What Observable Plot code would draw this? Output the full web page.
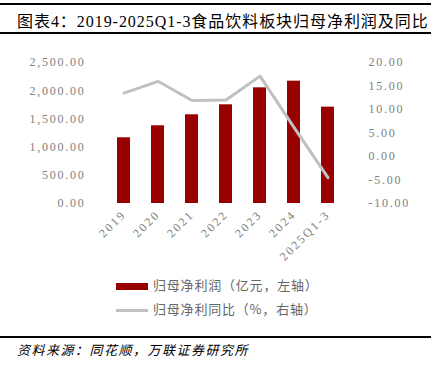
<!DOCTYPE html>
<html>
<head>
<meta charset="utf-8">
<script src="https://cdn.jsdelivr.net/npm/d3@7"></script>
<script src="https://cdn.jsdelivr.net/npm/@observablehq/plot@0.6"></script>
<style>
  html, body { margin: 0; padding: 0; background: #fff; }
  #wrap { position: relative; width: 431px; height: 366px; overflow: hidden; font-family: "Liberation Serif", "Noto Sans CJK SC", serif; }
  .rule { position: absolute; left: 0; width: 431px; background: #000; }
  #title { position: absolute; left: 17px; top: 8px; font-size: 16px; letter-spacing: 0.95px; color: #000; white-space: nowrap; font-family: "Liberation Serif", "Noto Sans CJK SC", serif; }
  #chart { position: absolute; left: 0; top: 0; }
  #chart svg g[aria-label="y-axis tick label"] text { letter-spacing: 1.75px; }
  #chart svg g[aria-label="x-axis tick label"] text { letter-spacing: 2.1px; }
  .leg { position: absolute; left: 116px; font-size: 13px; letter-spacing: 0.8px; color: #666; white-space: nowrap; font-family: "Noto Sans CJK SC", sans-serif; }
  .sw { display: inline-block; width: 32px; vertical-align: middle; margin-right: 5px; }
  #src { position: absolute; left: 17px; top: 340px; font-size: 13px; font-style: italic; letter-spacing: 1.5px; color: #000; white-space: nowrap; font-family: "Noto Sans CJK SC", sans-serif; }
</style>
</head>
<body>
<div id="wrap">
  <div class="rule" style="top:3px;height:2px;"></div>
  <div id="title">图表4：2019-2025Q1-3食品饮料板块归母净利润及同比</div>
  <div class="rule" style="top:32px;height:2px;"></div>
  <div id="chart"></div>
  <div class="leg" style="top:275px;"><span class="sw" style="height:7px;background:#990000;"></span>归母净利润（亿元，左轴）</div>
  <div class="leg" style="top:299px;"><span class="sw" style="height:3px;background:#c0c0c0;"></span>归母净利同比（%，右轴）</div>
  <div class="rule" style="top:336px;height:2px;"></div>
  <div id="src">资料来源：同花顺，万联证券研究所</div>
</div>
<script>
const categories = ["2019", "2020", "2021", "2022", "2023", "2024", "2025Q1-3"];
const profit = [1165, 1378, 1573, 1750, 2051, 2169, 1708];   // 亿元, left axis
const yoy = [13.5, 16.0, 11.9, 12.0, 17.1, 6.2, -4.5];        // %, right axis
const leftTicks = [0, 500, 1000, 1500, 2000, 2500];
const rightTicks = [-10, -5, 0, 5, 10, 15, 20];

const LMAX = 2500, RMIN = -10, RMAX = 20;
const toLeft = v => (v - RMIN) / (RMAX - RMIN) * LMAX;
const toRight = v => v / LMAX * (RMAX - RMIN) + RMIN;

const bars = categories.map((c, i) => ({cat: c, value: profit[i]}));
const line = categories.map((c, i) => ({cat: c, value: toLeft(yoy[i])}));

const fmt = d3.format(",.2f");

const chart = Plot.plot({
  width: 431,
  height: 270,
  marginTop: 62,
  marginBottom: 67,
  marginLeft: 95,
  marginRight: 75,
  style: {fontFamily: "'Liberation Serif', serif", fontSize: "12px", color: "#808080", background: "transparent"},
  x: {domain: categories, padding: 0.61, label: null},
  y: {domain: [0, LMAX], label: null},
  marks: [
    Plot.barY(bars, {x: "cat", y: "value", fill: "#990000"}),
    Plot.line(line, {x: "cat", y: "value", stroke: "#c0c0c0", strokeWidth: 3, strokeLinecap: "round", strokeLinejoin: "round"}),
    Plot.axisY({anchor: "left", ticks: leftTicks, tickFormat: d => fmt(d), tickSize: 0, tickPadding: 10, label: null, fill: "#808080"}),
    Plot.axisY({anchor: "right", ticks: rightTicks.map(toLeft), tickFormat: d => toRight(d).toFixed(2), tickSize: 0, tickPadding: 12, label: null, fill: "#808080"}),
    Plot.axisX({tickRotate: -45, tickSize: 0, tickPadding: 9, label: null, fill: "#808080"})
  ]
});
document.getElementById("chart").appendChild(chart);
</script>
</body>
</html>
